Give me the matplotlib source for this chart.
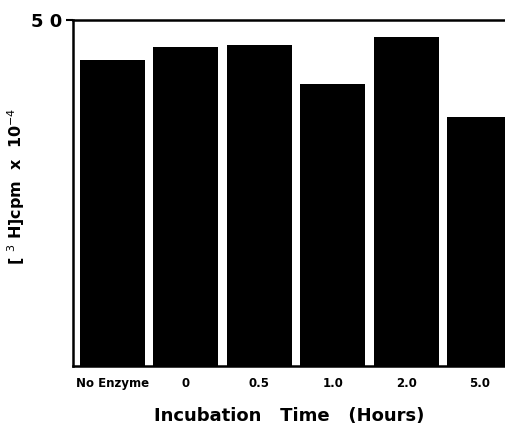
import matplotlib.pyplot as plt
import numpy as np

labels = ['No Enzyme', '0', '0.5', '1.0', '2.0', '5.0']
cpm = [44.2, 46.1, 46.4, 40.8, 47.5, 36.0]

fig = plt.figure(figsize=(5.06, 4.33), dpi=100)
ax = fig.add_axes([0.144, 0.155, 0.856, 0.799])
x = np.arange(len(labels))
ax.bar(x, cpm, width=0.885, color='black')
ax.set_xlim(-0.54, 5.36)
ax.set_ylim(0, 50)
ax.set_yticks([50])
ax.set_yticklabels(['5 0'], fontsize=13, fontweight='bold')
ax.set_xticks(x)
ax.set_xticklabels(labels, fontsize=8.5, fontweight='bold')
ax.tick_params(axis='x', length=0, pad=8)
ax.tick_params(axis='y', length=5, width=1.5, pad=3)
ax.spines['right'].set_visible(False)
for s in ['left', 'top', 'bottom']:
    ax.spines[s].set_linewidth(1.8)
ax.set_ylabel(r'[ $^{3}$ H]cpm  x  10$^{-4}$', fontsize=11.5, fontweight='bold')
ax.yaxis.set_label_coords(-0.105, 0.52)
ax.set_xlabel('Incubation   Time   (Hours)', fontsize=13, fontweight='bold', labelpad=12)
fig.savefig('out.png', dpi=100)
